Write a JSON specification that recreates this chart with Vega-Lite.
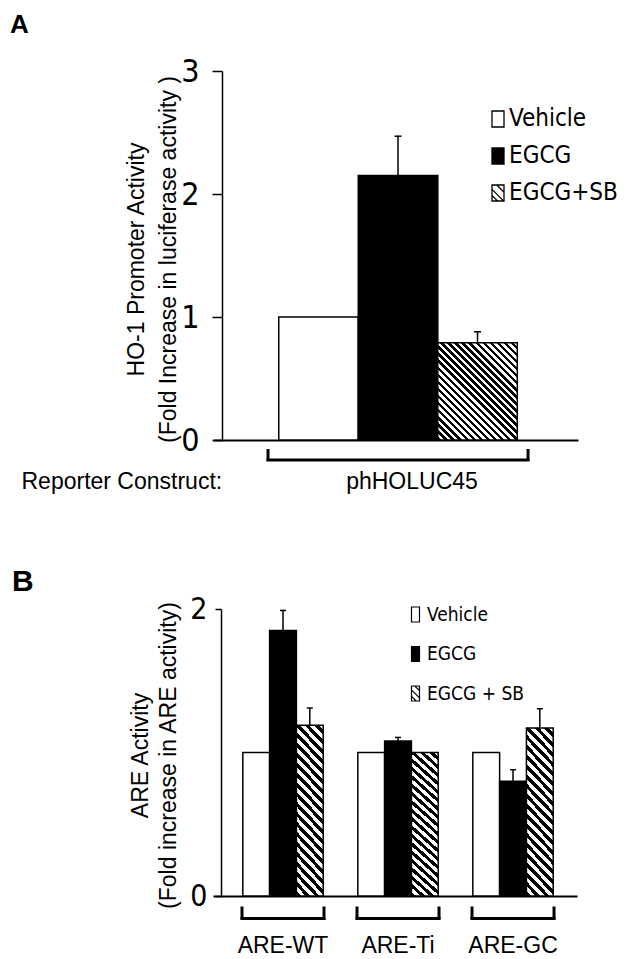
{
  "$schema": "https://vega.github.io/schema/vega-lite/v6.json",
  "background": "white",
  "padding": {"left": 10, "top": 12, "right": 0, "bottom": 0},
  "spacing": 74,
  "resolve": {
    "scale": {"xOffset": "independent", "fill": "independent", "shape": "independent", "stroke": "independent"},
    "legend": {"fill": "independent", "shape": "independent", "stroke": "independent"}
  },
  "config": {
    "view": {"stroke": null},
    "font": "Liberation Sans",
    "tick": {"opacity": 1},
    "axis": {"domainColor": "black", "tickColor": "black", "labelColor": "black", "titleColor": "black", "grid": false},
    "title": {"color": "black"}
  },
  "datasets": {
    "a": [
      {"construct": "phHOLUC45", "group": "Vehicle", "value": 1.0, "upper": null},
      {"construct": "phHOLUC45", "group": "EGCG", "value": 2.15, "upper": 2.47},
      {"construct": "phHOLUC45", "group": "EGCG+SB", "value": 0.79, "upper": 0.88}
    ],
    "b": [
      {"construct": "ARE-WT", "group": "Vehicle", "value": 1.0, "upper": null},
      {"construct": "ARE-WT", "group": "EGCG", "value": 1.85, "upper": 1.99},
      {"construct": "ARE-WT", "group": "EGCG + SB", "value": 1.19, "upper": 1.31},
      {"construct": "ARE-Ti", "group": "Vehicle", "value": 1.0, "upper": null},
      {"construct": "ARE-Ti", "group": "EGCG", "value": 1.08, "upper": 1.105},
      {"construct": "ARE-Ti", "group": "EGCG + SB", "value": 1.0, "upper": null},
      {"construct": "ARE-GC", "group": "Vehicle", "value": 1.0, "upper": null},
      {"construct": "ARE-GC", "group": "EGCG", "value": 0.8, "upper": 0.88},
      {"construct": "ARE-GC", "group": "EGCG + SB", "value": 1.17, "upper": 1.305}
    ]
  },
  "vconcat": [
    {
      "width": 365,
      "height": 369,
      "title": {"text": "A", "anchor": "start", "frame": "group", "dx": -203, "fontSize": 26, "fontWeight": "bold", "baseline": "alphabetic", "offset": -4},
      "data": {"name": "a"},
      "encoding": {
        "x": {"field": "construct", "type": "nominal", "scale": {"paddingInner": 0, "paddingOuter": 0.2019, "align": 0.524},
          "axis": {"title": "Reporter Construct:", "titleX": -192, "titleY": 48, "titleAlign": "left", "titleAnchor": "start", "titleBaseline": "alphabetic", "titleFontSize": 23, "titleFontWeight": "normal", "ticks": false, "tickSize": 0, "labelAngle": 0, "labelFontSize": 23, "labelPadding": 48, "labelBaseline": "alphabetic", "labelOffset": 14, "domainWidth": 2}},
        "y": {"field": "value", "type": "quantitative", "scale": {"domain": [0, 3], "nice": false},
          "axis": {"values": [0, 1, 2, 3], "format": "d", "tickSize": 10, "tickWidth": 1.5, "domainWidth": 1.5, "offset": -9, "labelFont": "Liberation Sans Narrow, DejaVu Sans Condensed, Liberation Sans", "labelFontSize": 32, "labelPadding": 13, "labelFlush": false, "labelOverlap": false, "title": ["HO-1 Promoter  Activity", "(Fold Increase in luciferase activity )"], "titleFontSize": 23, "titleFontWeight": "normal", "titleLineHeight": 32, "titleAngle": -90, "titleAlign": "center", "titleBaseline": "middle", "titleX": -86, "titleY": 188}}
      },
      "layer": [
        {
          "transform": [{"filter": "datum.group !== 'EGCG+SB'"}],
          "mark": {"type": "bar", "stroke": "black", "strokeWidth": 1.5},
          "encoding": {
            "xOffset": {"field": "group", "type": "nominal", "scale": {"domain": ["Vehicle", "EGCG", "EGCG+SB"], "paddingInner": 0, "paddingOuter": 0.135}},
            "fill": {"condition": {"test": "datum.group === 'EGCG'", "value": "black"}, "value": "white"}
          }
        },
        {
          "transform": [{"filter": "datum.group === 'EGCG+SB'"}],
          "mark": {"type": "bar", "stroke": "black", "strokeWidth": 1.5,
            "fill": {"gradient": "linear", "x1": 0, "y1": 1, "x2": 0.8909, "y2": -0.0892, "stops": [
              {"offset": 0, "color": "black"}, {"offset": 0.02, "color": "black"}, {"offset": 0.02, "color": "white"}, {"offset": 0.04, "color": "white"},
              {"offset": 0.04, "color": "black"}, {"offset": 0.06, "color": "black"}, {"offset": 0.06, "color": "white"}, {"offset": 0.08, "color": "white"},
              {"offset": 0.08, "color": "black"}, {"offset": 0.10, "color": "black"}, {"offset": 0.10, "color": "white"}, {"offset": 0.12, "color": "white"},
              {"offset": 0.12, "color": "black"}, {"offset": 0.14, "color": "black"}, {"offset": 0.14, "color": "white"}, {"offset": 0.16, "color": "white"},
              {"offset": 0.16, "color": "black"}, {"offset": 0.18, "color": "black"}, {"offset": 0.18, "color": "white"}, {"offset": 0.20, "color": "white"},
              {"offset": 0.20, "color": "black"}, {"offset": 0.22, "color": "black"}, {"offset": 0.22, "color": "white"}, {"offset": 0.24, "color": "white"},
              {"offset": 0.24, "color": "black"}, {"offset": 0.26, "color": "black"}, {"offset": 0.26, "color": "white"}, {"offset": 0.28, "color": "white"},
              {"offset": 0.28, "color": "black"}, {"offset": 0.30, "color": "black"}, {"offset": 0.30, "color": "white"}, {"offset": 0.32, "color": "white"},
              {"offset": 0.32, "color": "black"}, {"offset": 0.34, "color": "black"}, {"offset": 0.34, "color": "white"}, {"offset": 0.36, "color": "white"},
              {"offset": 0.36, "color": "black"}, {"offset": 0.38, "color": "black"}, {"offset": 0.38, "color": "white"}, {"offset": 0.40, "color": "white"},
              {"offset": 0.40, "color": "black"}, {"offset": 0.42, "color": "black"}, {"offset": 0.42, "color": "white"}, {"offset": 0.44, "color": "white"},
              {"offset": 0.44, "color": "black"}, {"offset": 0.46, "color": "black"}, {"offset": 0.46, "color": "white"}, {"offset": 0.48, "color": "white"},
              {"offset": 0.48, "color": "black"}, {"offset": 0.50, "color": "black"}, {"offset": 0.50, "color": "white"}, {"offset": 0.52, "color": "white"},
              {"offset": 0.52, "color": "black"}, {"offset": 0.54, "color": "black"}, {"offset": 0.54, "color": "white"}, {"offset": 0.56, "color": "white"},
              {"offset": 0.56, "color": "black"}, {"offset": 0.58, "color": "black"}, {"offset": 0.58, "color": "white"}, {"offset": 0.60, "color": "white"},
              {"offset": 0.60, "color": "black"}, {"offset": 0.62, "color": "black"}, {"offset": 0.62, "color": "white"}, {"offset": 0.64, "color": "white"},
              {"offset": 0.64, "color": "black"}, {"offset": 0.66, "color": "black"}, {"offset": 0.66, "color": "white"}, {"offset": 0.68, "color": "white"},
              {"offset": 0.68, "color": "black"}, {"offset": 0.70, "color": "black"}, {"offset": 0.70, "color": "white"}, {"offset": 0.72, "color": "white"},
              {"offset": 0.72, "color": "black"}, {"offset": 0.74, "color": "black"}, {"offset": 0.74, "color": "white"}, {"offset": 0.76, "color": "white"},
              {"offset": 0.76, "color": "black"}, {"offset": 0.78, "color": "black"}, {"offset": 0.78, "color": "white"}, {"offset": 0.80, "color": "white"},
              {"offset": 0.80, "color": "black"}, {"offset": 0.82, "color": "black"}, {"offset": 0.82, "color": "white"}, {"offset": 0.84, "color": "white"},
              {"offset": 0.84, "color": "black"}, {"offset": 0.86, "color": "black"}, {"offset": 0.86, "color": "white"}, {"offset": 0.88, "color": "white"},
              {"offset": 0.88, "color": "black"}, {"offset": 0.90, "color": "black"}, {"offset": 0.90, "color": "white"}, {"offset": 0.92, "color": "white"},
              {"offset": 0.92, "color": "black"}, {"offset": 0.94, "color": "black"}, {"offset": 0.94, "color": "white"}, {"offset": 0.96, "color": "white"},
              {"offset": 0.96, "color": "black"}, {"offset": 0.98, "color": "black"}, {"offset": 0.98, "color": "white"}, {"offset": 1, "color": "white"}
            ]}},
          "encoding": {
            "xOffset": {"field": "group", "type": "nominal", "scale": {"domain": ["Vehicle", "EGCG", "EGCG+SB"], "paddingInner": 0, "paddingOuter": 0.135}}
          }
        },
        {
          "transform": [{"filter": "datum.upper != null"}],
          "mark": {"type": "rule", "color": "black", "strokeWidth": 1.5},
          "encoding": {
            "xOffset": {"field": "group", "type": "nominal", "scale": {"domain": ["Vehicle", "EGCG", "EGCG+SB"], "paddingInner": 0, "paddingOuter": 0.135}},
            "y2": {"field": "upper"}
          }
        },
        {
          "transform": [{"filter": "datum.upper != null"}],
          "mark": {"type": "tick", "color": "black", "opacity": 1, "size": 7, "thickness": 1.5},
          "encoding": {
            "xOffset": {"field": "group", "type": "nominal", "scale": {"domain": ["Vehicle", "EGCG", "EGCG+SB"], "paddingInner": 0, "paddingOuter": 0.135}},
            "y": {"field": "upper", "type": "quantitative"}
          }
        },
        {
          "transform": [{"filter": "datum.group === 'Vehicle'"}],
          "mark": {"type": "tick", "orient": "horizontal", "color": "black", "opacity": 1, "size": 263, "thickness": 3, "yOffset": 20},
          "encoding": {"y": {"datum": 0, "type": "quantitative"}}
        },
        {
          "transform": [{"filter": "datum.group === 'Vehicle'"}],
          "mark": {"type": "tick", "orient": "vertical", "color": "black", "opacity": 1, "size": 12, "thickness": 3, "yOffset": 15, "xOffset": -130},
          "encoding": {"y": {"datum": 0, "type": "quantitative"}}
        },
        {
          "transform": [{"filter": "datum.group === 'Vehicle'"}],
          "mark": {"type": "tick", "orient": "vertical", "color": "black", "opacity": 1, "size": 12, "thickness": 3, "yOffset": 15, "xOffset": 130},
          "encoding": {"y": {"datum": 0, "type": "quantitative"}}
        },
        {
          "mark": {"type": "point", "filled": true, "opacity": 0, "strokeWidth": 1.3, "size": 144},
          "encoding": {
            "xOffset": {"field": "group", "type": "nominal", "scale": {"domain": ["Vehicle", "EGCG", "EGCG+SB"], "paddingInner": 0, "paddingOuter": 0.135}},
            "fill": {"field": "group", "type": "nominal", "scale": {"domain": ["Vehicle", "EGCG", "EGCG+SB"], "range": ["white", "black", "white"]},
              "legend": {"title": null, "orient": "none", "legendX": 273, "legendY": 36, "symbolSize": 144, "symbolStrokeWidth": 1.3, "symbolOpacity": 1, "labelFont": "Liberation Sans Narrow, DejaVu Sans Condensed, Liberation Sans", "labelFontSize": 24, "labelColor": "black", "labelOffset": -1, "rowPadding": 13, "padding": 0, "labelLimit": 300}},
            "stroke": {"field": "group", "type": "nominal", "scale": {"domain": ["Vehicle", "EGCG", "EGCG+SB"], "range": ["black", "black", "black"]},
              "legend": {"title": null, "orient": "none", "legendX": 273, "legendY": 36, "symbolSize": 144, "symbolStrokeWidth": 1.3, "symbolOpacity": 1, "labelFont": "Liberation Sans Narrow, DejaVu Sans Condensed, Liberation Sans", "labelFontSize": 24, "labelColor": "black", "labelOffset": -1, "rowPadding": 13, "padding": 0, "labelLimit": 300}},
            "shape": {"field": "group", "type": "nominal", "scale": {"domain": ["Vehicle", "EGCG", "EGCG+SB"], "range": [
                "M-1,-1.33H1V1.33H-1Z",
                "M-1,-1.33H1V1.33H-1Z",
                "M-1,-1.33H1V1.33H-1Z M-1,-0.6L1,1.4 M-1,0.4L-0.07,1.33 M-0.2,-1.33L1,-0.13"]},
              "legend": {"title": null, "orient": "none", "legendX": 273, "legendY": 36, "symbolSize": 144, "symbolStrokeWidth": 1.3, "symbolOpacity": 1, "labelFont": "Liberation Sans Narrow, DejaVu Sans Condensed, Liberation Sans", "labelFontSize": 24, "labelColor": "black", "labelOffset": -1, "rowPadding": 13, "padding": 0, "labelLimit": 300}}
          }
        }
      ]
    },
    {
      "width": 364,
      "height": 287,
      "title": {"text": "B", "anchor": "start", "frame": "group", "dx": -201, "fontSize": 30, "fontWeight": "bold", "baseline": "alphabetic", "offset": -27},
      "data": {"name": "b"},
      "encoding": {
        "x": {"field": "construct", "type": "nominal", "sort": ["ARE-WT", "ARE-Ti", "ARE-GC"], "scale": {"paddingInner": 0.287, "paddingOuter": 0.226, "align": 0.558},
          "axis": {"title": null, "ticks": false, "tickSize": 0, "labelAngle": 0, "labelFontSize": 23, "labelPadding": 56, "labelBaseline": "alphabetic", "domainWidth": 2}},
        "y": {"field": "value", "type": "quantitative", "scale": {"domain": [0, 2], "nice": false},
          "axis": {"values": [0, 1, 2], "format": "d", "tickSize": 6, "tickWidth": 1.5, "domainWidth": 1.5, "offset": -8, "labelFont": "Liberation Sans Narrow, DejaVu Sans Condensed, Liberation Sans", "labelFontSize": 30, "labelPadding": 8, "labelFlush": false, "labelOverlap": false, "title": ["ARE  Activity", "(Fold  increase in ARE activity)"], "titleFontSize": 23, "titleFontWeight": "normal", "titleLineHeight": 28, "titleAngle": -90, "titleAlign": "center", "titleBaseline": "middle", "titleX": -81, "titleY": 146}}
      },
      "layer": [
        {
          "transform": [{"filter": "datum.group !== 'EGCG + SB'"}],
          "mark": {"type": "bar", "stroke": "black", "strokeWidth": 1.5},
          "encoding": {
            "xOffset": {"field": "group", "type": "nominal", "scale": {"domain": ["Vehicle", "EGCG", "EGCG + SB"], "paddingInner": 0, "paddingOuter": 0.03}},
            "fill": {"condition": {"test": "datum.group === 'EGCG'", "value": "black"}, "value": "white"}
          }
        },
        {
          "transform": [{"filter": "datum.group === 'EGCG + SB'"}],
          "mark": {"type": "bar", "stroke": "black", "strokeWidth": 1.5,
            "fill": {"gradient": "linear", "x1": 0, "y1": 1, "x2": 0.1902, "y2": -0.1356, "stops": [
              {"offset": 0, "color": "black"}, {"offset": 0.025, "color": "black"}, {"offset": 0.025, "color": "white"}, {"offset": 0.05, "color": "white"},
              {"offset": 0.05, "color": "black"}, {"offset": 0.075, "color": "black"}, {"offset": 0.075, "color": "white"}, {"offset": 0.10, "color": "white"},
              {"offset": 0.10, "color": "black"}, {"offset": 0.125, "color": "black"}, {"offset": 0.125, "color": "white"}, {"offset": 0.15, "color": "white"},
              {"offset": 0.15, "color": "black"}, {"offset": 0.175, "color": "black"}, {"offset": 0.175, "color": "white"}, {"offset": 0.20, "color": "white"},
              {"offset": 0.20, "color": "black"}, {"offset": 0.225, "color": "black"}, {"offset": 0.225, "color": "white"}, {"offset": 0.25, "color": "white"},
              {"offset": 0.25, "color": "black"}, {"offset": 0.275, "color": "black"}, {"offset": 0.275, "color": "white"}, {"offset": 0.30, "color": "white"},
              {"offset": 0.30, "color": "black"}, {"offset": 0.325, "color": "black"}, {"offset": 0.325, "color": "white"}, {"offset": 0.35, "color": "white"},
              {"offset": 0.35, "color": "black"}, {"offset": 0.375, "color": "black"}, {"offset": 0.375, "color": "white"}, {"offset": 0.40, "color": "white"},
              {"offset": 0.40, "color": "black"}, {"offset": 0.425, "color": "black"}, {"offset": 0.425, "color": "white"}, {"offset": 0.45, "color": "white"},
              {"offset": 0.45, "color": "black"}, {"offset": 0.475, "color": "black"}, {"offset": 0.475, "color": "white"}, {"offset": 0.50, "color": "white"},
              {"offset": 0.50, "color": "black"}, {"offset": 0.525, "color": "black"}, {"offset": 0.525, "color": "white"}, {"offset": 0.55, "color": "white"},
              {"offset": 0.55, "color": "black"}, {"offset": 0.575, "color": "black"}, {"offset": 0.575, "color": "white"}, {"offset": 0.60, "color": "white"},
              {"offset": 0.60, "color": "black"}, {"offset": 0.625, "color": "black"}, {"offset": 0.625, "color": "white"}, {"offset": 0.65, "color": "white"},
              {"offset": 0.65, "color": "black"}, {"offset": 0.675, "color": "black"}, {"offset": 0.675, "color": "white"}, {"offset": 0.70, "color": "white"},
              {"offset": 0.70, "color": "black"}, {"offset": 0.725, "color": "black"}, {"offset": 0.725, "color": "white"}, {"offset": 0.75, "color": "white"},
              {"offset": 0.75, "color": "black"}, {"offset": 0.775, "color": "black"}, {"offset": 0.775, "color": "white"}, {"offset": 0.80, "color": "white"},
              {"offset": 0.80, "color": "black"}, {"offset": 0.825, "color": "black"}, {"offset": 0.825, "color": "white"}, {"offset": 0.85, "color": "white"},
              {"offset": 0.85, "color": "black"}, {"offset": 0.875, "color": "black"}, {"offset": 0.875, "color": "white"}, {"offset": 0.90, "color": "white"},
              {"offset": 0.90, "color": "black"}, {"offset": 0.925, "color": "black"}, {"offset": 0.925, "color": "white"}, {"offset": 0.95, "color": "white"},
              {"offset": 0.95, "color": "black"}, {"offset": 0.975, "color": "black"}, {"offset": 0.975, "color": "white"}, {"offset": 1, "color": "white"}
            ]}},
          "encoding": {
            "xOffset": {"field": "group", "type": "nominal", "scale": {"domain": ["Vehicle", "EGCG", "EGCG + SB"], "paddingInner": 0, "paddingOuter": 0.03}}
          }
        },
        {
          "transform": [{"filter": "datum.upper != null"}],
          "mark": {"type": "rule", "color": "black", "strokeWidth": 1.5},
          "encoding": {
            "xOffset": {"field": "group", "type": "nominal", "scale": {"domain": ["Vehicle", "EGCG", "EGCG + SB"], "paddingInner": 0, "paddingOuter": 0.03}},
            "y2": {"field": "upper"}
          }
        },
        {
          "transform": [{"filter": "datum.upper != null"}],
          "mark": {"type": "tick", "color": "black", "opacity": 1, "size": 6, "thickness": 1.5},
          "encoding": {
            "xOffset": {"field": "group", "type": "nominal", "scale": {"domain": ["Vehicle", "EGCG", "EGCG + SB"], "paddingInner": 0, "paddingOuter": 0.03}},
            "y": {"field": "upper", "type": "quantitative"}
          }
        },
        {
          "transform": [{"filter": "datum.group === 'Vehicle'"}],
          "mark": {"type": "tick", "orient": "horizontal", "color": "black", "opacity": 1, "size": 85, "thickness": 3, "yOffset": 22.5},
          "encoding": {"y": {"datum": 0, "type": "quantitative"}}
        },
        {
          "transform": [{"filter": "datum.group === 'Vehicle'"}],
          "mark": {"type": "tick", "orient": "vertical", "color": "black", "opacity": 1, "size": 13, "thickness": 3, "yOffset": 17, "xOffset": -41},
          "encoding": {"y": {"datum": 0, "type": "quantitative"}}
        },
        {
          "transform": [{"filter": "datum.group === 'Vehicle'"}],
          "mark": {"type": "tick", "orient": "vertical", "color": "black", "opacity": 1, "size": 13, "thickness": 3, "yOffset": 17, "xOffset": 41},
          "encoding": {"y": {"datum": 0, "type": "quantitative"}}
        },
        {
          "mark": {"type": "point", "filled": true, "opacity": 0, "strokeWidth": 1.2, "size": 64},
          "encoding": {
            "xOffset": {"field": "group", "type": "nominal", "scale": {"domain": ["Vehicle", "EGCG", "EGCG + SB"], "paddingInner": 0, "paddingOuter": 0.03}},
            "fill": {"field": "group", "type": "nominal", "scale": {"domain": ["Vehicle", "EGCG", "EGCG + SB"], "range": ["white", "black", "white"]},
              "legend": {"title": null, "orient": "none", "legendX": 193, "legendY": -4, "symbolSize": 64, "symbolStrokeWidth": 1.2, "symbolOpacity": 1, "labelFont": "Liberation Sans Narrow, DejaVu Sans Condensed, Liberation Sans", "labelFontSize": 19, "labelColor": "black", "labelOffset": 2, "rowPadding": 18.5, "padding": 0, "labelLimit": 300}},
            "stroke": {"field": "group", "type": "nominal", "scale": {"domain": ["Vehicle", "EGCG", "EGCG + SB"], "range": ["black", "black", "black"]},
              "legend": {"title": null, "orient": "none", "legendX": 193, "legendY": -4, "symbolSize": 64, "symbolStrokeWidth": 1.2, "symbolOpacity": 1, "labelFont": "Liberation Sans Narrow, DejaVu Sans Condensed, Liberation Sans", "labelFontSize": 19, "labelColor": "black", "labelOffset": 2, "rowPadding": 18.5, "padding": 0, "labelLimit": 300}},
            "shape": {"field": "group", "type": "nominal", "scale": {"domain": ["Vehicle", "EGCG", "EGCG + SB"], "range": [
                "M-1,-1.88H1V1.88H-1Z",
                "M-1,-1.88H1V1.88H-1Z",
                "M-1,-1.88H1V1.88H-1Z M-1,-0.9L1,1.1 M-1,0.7L0.18,1.88 M-0.18,-1.88L1,-0.7"]},
              "legend": {"title": null, "orient": "none", "legendX": 193, "legendY": -4, "symbolSize": 64, "symbolStrokeWidth": 1.2, "symbolOpacity": 1, "labelFont": "Liberation Sans Narrow, DejaVu Sans Condensed, Liberation Sans", "labelFontSize": 19, "labelColor": "black", "labelOffset": 2, "rowPadding": 18.5, "padding": 0, "labelLimit": 300}}
          }
        }
      ]
    }
  ]
}
